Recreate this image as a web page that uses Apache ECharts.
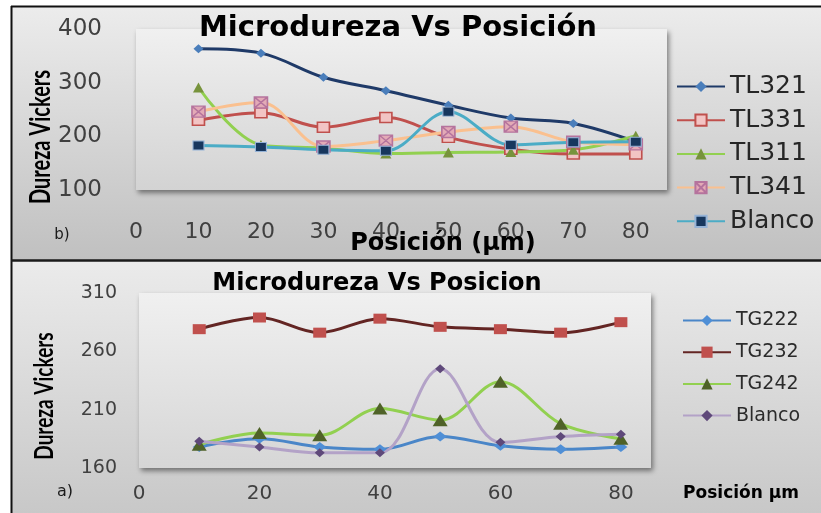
<!DOCTYPE html>
<html>
<head>
<meta charset="utf-8">
<script src="https://cdn.jsdelivr.net/npm/echarts@6/dist/echarts.min.js"></script>
<style>
  html, body { margin: 0; padding: 0; background: #ffffff; }
  #chart { width: 821px; height: 513px; }
</style>
</head>
<body>
<div id="chart"></div>
<script>
// Measurement positions (µm) shared by both panels
const positions = [10, 20, 30, 40, 50, 60, 70, 80];

// Panel b) — TL samples (Vickers hardness)
const tl321 = [363, 355, 310, 285, 258, 234, 224, 190];
const tl331 = [230, 244, 217, 235, 198, 176, 167, 167];
const tl311 = [291, 184, 178, 168, 170, 171, 175, 201];
const tl341 = [246, 263, 181, 192, 208, 218, 190, 185];
const blancoB = [183, 180, 175, 173, 246, 184, 189, 190];

// Panel a) — TG samples (Vickers hardness)
const tg222 = [178, 185, 178, 176, 187, 179, 176, 178];
const tg232 = [279, 289, 276, 288, 281, 279, 276, 285];
const tg242 = [180, 190, 188, 211, 201, 234, 198, 185];
const blancoA = [183, 178, 173, 173, 245, 182, 187, 189];

// Axis ticks
const ticksYB = [100, 200, 300, 400];
const ticksXB = [0, 10, 20, 30, 40, 50, 60, 70, 80];
const ticksYA = [160, 210, 260, 310];
const ticksXA = [0, 20, 40, 60, 80];

const pairs = vals => positions.map((x, i) => [x, vals[i]]);
const FONT = 'DejaVu Sans';
const boxX = 'path://M0,0H10V10H0Z M0,0L10,10 M10,0L0,10';

function lineSeries(name, vals, grid, lineColor, symbol, size, fill, border, bw) {
  return {
    type: 'line', name, data: pairs(vals),
    xAxisIndex: grid, yAxisIndex: grid,
    smooth: 0.35,
    symbol, symbolSize: size, showSymbol: true,
    lineStyle: { color: lineColor, width: 3 },
    itemStyle: { color: fill, borderColor: border || fill, borderWidth: bw || 0 },
    emphasis: { disabled: true }
  };
}

const chart = echarts.init(document.getElementById('chart'), null, { renderer: 'canvas' });

const gridFill = (a, b) => ({
  type: 'linear', x: 0, y: 0, x2: 0, y2: 1,
  colorStops: [{ offset: 0, color: a }, { offset: 1, color: b }]
});

const option = {
  animation: false,
  backgroundColor: '#ffffff',
  grid: [
    { left: 136, top: 29, width: 531, height: 161, show: true, borderWidth: 0,
      backgroundColor: gridFill('#f0f0f0', '#d3d3d3'),
      shadowBlur: 5, shadowColor: 'rgba(0,0,0,0.45)', shadowOffsetX: 2, shadowOffsetY: 3 },
    { left: 139, top: 293, width: 512, height: 175, show: true, borderWidth: 0,
      backgroundColor: gridFill('#f0f0f0', '#d6d6d6'),
      shadowBlur: 5, shadowColor: 'rgba(0,0,0,0.45)', shadowOffsetX: 2, shadowOffsetY: 3 }
  ],
  xAxis: [
    { type: 'value', gridIndex: 0, min: ticksXB[0], max: 85, interval: ticksXB[1] - ticksXB[0],
      axisLine: { show: false }, axisTick: { show: false }, splitLine: { show: false },
      axisLabel: { showMaxLabel: false, margin: 31, fontFamily: FONT, fontSize: 22, color: '#404040',
        formatter: v => ticksXB.includes(v) ? String(v) : '' } },
    { type: 'value', gridIndex: 1, min: ticksXA[0], max: 85, interval: ticksXA[1] - ticksXA[0],
      axisLine: { show: false }, axisTick: { show: false }, splitLine: { show: false },
      axisLabel: { showMaxLabel: false, margin: 16, fontFamily: FONT, fontSize: 20, color: '#404040',
        formatter: v => ticksXA.includes(v) ? String(v) : '' } }
  ],
  yAxis: [
    { type: 'value', gridIndex: 0, min: ticksYB[0], max: ticksYB[ticksYB.length - 1],
      interval: ticksYB[1] - ticksYB[0],
      axisLine: { show: false }, axisTick: { show: false }, splitLine: { show: false },
      axisLabel: { margin: 34, fontFamily: FONT, fontSize: 23, color: '#404040' } },
    { type: 'value', gridIndex: 1, min: ticksYA[0], max: ticksYA[ticksYA.length - 1],
      interval: ticksYA[1] - ticksYA[0],
      axisLine: { show: false }, axisTick: { show: false }, splitLine: { show: false },
      axisLabel: { margin: 22, fontFamily: FONT, fontSize: 19, color: '#404040' } }
  ],
  legend: [
    { data: ['TL321', 'TL331', 'TL311', 'TL341', 'Blanco b'], orient: 'vertical',
      left: 671, top: 69, itemWidth: 48, itemHeight: 14, itemGap: 8.7,
      formatter: n => n.split(' ')[0], selectedMode: false,
      textStyle: { fontFamily: FONT, fontSize: 25, lineHeight: 22, color: '#262626' } },
    { data: ['TG222', 'TG232', 'TG242', 'Blanco a'], orient: 'vertical',
      left: 677, top: 306, itemWidth: 48, itemHeight: 14, itemGap: 12.7,
      formatter: n => n.split(' ')[0], selectedMode: false,
      textStyle: { fontFamily: FONT, fontSize: 19, lineHeight: 18, color: '#2b2b2b' } }
  ],
  series: [
    lineSeries('TL321', tl321, 0, '#1f3a68', 'diamond', [10, 9], '#4a7ebb'),
    lineSeries('TL331', tl331, 0, '#c0504d', 'rect', [12, 10], '#f2c4c4', '#c0504d', 1.5),
    lineSeries('TL311', tl311, 0, '#92d050', 'triangle', [11, 10], '#77933c'),
    lineSeries('TL341', tl341, 0, '#fac08f', boxX, [13, 11], '#e3aab6', '#b5739d', 1.5),
    lineSeries('Blanco b', blancoB, 0, '#4bacc6', 'rect', [11, 9], '#17375e', '#95b3d7', 1),
    lineSeries('TG222', tg222, 1, '#4a86c8', 'diamond', [13, 10], '#4f8fd6'),
    lineSeries('TG232', tg232, 1, '#632523', 'rect', [13, 10], '#c0504d'),
    lineSeries('TG242', tg242, 1, '#92d050', 'triangle', [15, 12], '#4f6228'),
    lineSeries('Blanco a', blancoA, 1, '#b3a2c7', 'diamond', [10, 9], '#5f497a')
  ],
  graphic: [
    // panel backgrounds
    { type: 'rect', z: -10, silent: true, shape: { x: 11, y: 6, width: 810, height: 254 },
      style: { fill: gridFill('#ececec', '#c0c0c0') } },
    { type: 'rect', z: -10, silent: true, shape: { x: 11, y: 260, width: 810, height: 253 },
      style: { fill: gridFill('#ebebeb', '#c8c8c8') } },
    // frame lines
    { type: 'line', z: 50, silent: true, shape: { x1: 11.5, y1: 6, x2: 11.5, y2: 513 },
      style: { stroke: '#111', lineWidth: 2 } },
    { type: 'line', z: 50, silent: true, shape: { x1: 11, y1: 6.5, x2: 821, y2: 6.5 },
      style: { stroke: '#111', lineWidth: 2 } },
    { type: 'line', z: 50, silent: true, shape: { x1: 11, y1: 260.5, x2: 821, y2: 260.5 },
      style: { stroke: '#1a1a1a', lineWidth: 2.5 } },
    // titles
    { type: 'text', z: 60, x: 398, y: 28, silent: true,
      style: { text: 'Microdureza Vs Posición', fontFamily: FONT, fontWeight: 'bold', fontSize: 29,
        fill: '#000', align: 'center', verticalAlign: 'middle' } },
    { type: 'text', z: 60, x: 377, y: 284, silent: true,
      style: { text: 'Microdureza Vs Posicion', fontFamily: FONT, fontWeight: 'bold', fontSize: 24,
        fill: '#000', align: 'center', verticalAlign: 'middle' } },
    // axis names
    { type: 'text', z: 60, x: 443, y: 244, silent: true,
      style: { text: 'Posición (µm)', fontFamily: FONT, fontWeight: 'bold', fontSize: 24,
        fill: '#000', align: 'center', verticalAlign: 'middle' } },
    { type: 'text', z: 60, x: 741, y: 494, silent: true,
      style: { text: 'Posición µm', fontFamily: FONT, fontWeight: 'bold', fontSize: 17,
        fill: '#000', align: 'center', verticalAlign: 'middle' } },
    { type: 'text', z: 60, x: 41, y: 137, rotation: Math.PI / 2, scaleY: 1.4, silent: true,
      style: { text: 'Dureza Vickers', fontFamily: 'Lato', fontWeight: 'bold', fontSize: 20,
        fill: '#000', align: 'center', verticalAlign: 'middle' } },
    { type: 'text', z: 60, x: 44, y: 396, rotation: Math.PI / 2, scaleY: 1.4, silent: true,
      style: { text: 'Dureza Vickers', fontFamily: 'Lato', fontWeight: 'bold', fontSize: 19,
        fill: '#000', align: 'center', verticalAlign: 'middle' } },
    // panel letters
    { type: 'text', z: 60, x: 62, y: 235, silent: true,
      style: { text: 'b)', fontFamily: FONT, fontSize: 15, fill: '#1a1a1a',
        align: 'center', verticalAlign: 'middle' } },
    { type: 'text', z: 60, x: 65, y: 492, silent: true,
      style: { text: 'a)', fontFamily: FONT, fontSize: 16, fill: '#1a1a1a',
        align: 'center', verticalAlign: 'middle' } }
  ]
};

chart.setOption(option);
</script>
</body>
</html>
